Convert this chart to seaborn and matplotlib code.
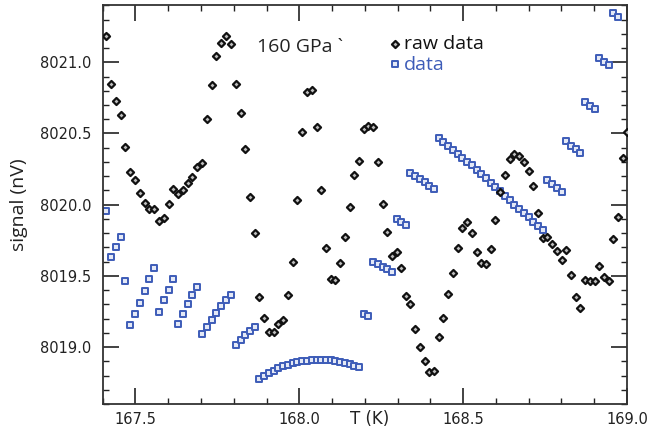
import numpy as np
import pandas as pd
import matplotlib
matplotlib.use("Agg")
import matplotlib.pyplot as plt
import seaborn as sns
from matplotlib.ticker import MultipleLocator, FormatStrFormatter

# sample temperatures (K)
temps = [
    167.410, 167.425, 167.440, 167.455, 167.469, 167.484, 167.499, 167.514, 167.528, 167.542,
    167.558, 167.572, 167.587, 167.602, 167.616, 167.631, 167.645, 167.660, 167.674, 167.688,
    167.703, 167.718, 167.733, 167.747, 167.762, 167.777, 167.792, 167.806, 167.821, 167.835,
    167.850, 167.864, 167.878, 167.893, 167.907, 167.922, 167.936, 167.951, 167.966, 167.980,
    167.994, 168.009, 168.024, 168.039, 168.053, 168.067, 168.082, 168.096, 168.110, 168.125,
    168.139, 168.154, 168.168, 168.183, 168.197, 168.211, 168.225, 168.240, 168.254, 168.268,
    168.282, 168.297, 168.311, 168.325, 168.339, 168.354, 168.369, 168.383, 168.397, 168.412,
    168.425, 168.440, 168.454, 168.469, 168.483, 168.497, 168.511, 168.526, 168.541, 168.555,
    168.569, 168.584, 168.598, 168.613, 168.627, 168.642, 168.656, 168.670, 168.685, 168.700,
    168.714, 168.728, 168.743, 168.757, 168.771, 168.786, 168.801, 168.815, 168.829, 168.844,
    168.858, 168.872, 168.886, 168.901, 168.915, 168.930, 168.944, 168.958, 168.973, 168.987,
    169.000,
]

# raw signal (nV)
raw_signal = [
    8021.188, 8020.850, 8020.730, 8020.632, 8020.408, 8020.232, 8020.174, 8020.082, 8020.014, 8019.968,
    8019.972, 8019.887, 8019.904, 8020.005, 8020.108, 8020.073, 8020.106, 8020.153, 8020.193, 8020.263,
    8020.296, 8020.601, 8020.838, 8021.042, 8021.132, 8021.183, 8021.127, 8020.850, 8020.641, 8020.394,
    8020.052, 8019.799, 8019.348, 8019.202, 8019.104, 8019.104, 8019.162, 8019.190, 8019.362, 8019.596,
    8020.033, 8020.510, 8020.794, 8020.806, 8020.542, 8020.104, 8019.693, 8019.479, 8019.472, 8019.589,
    8019.775, 8019.984, 8020.209, 8020.308, 8020.533, 8020.549, 8020.542, 8020.301, 8020.005, 8019.806,
    8019.641, 8019.669, 8019.552, 8019.357, 8019.299, 8019.127, 8019.000, 8018.901, 8018.824, 8018.829,
    8019.074, 8019.207, 8019.369, 8019.517, 8019.697, 8019.836, 8019.876, 8019.799, 8019.665, 8019.589,
    8019.584, 8019.686, 8019.889, 8020.092, 8020.206, 8020.320, 8020.355, 8020.344, 8020.303, 8020.235,
    8020.132, 8019.940, 8019.768, 8019.775, 8019.721, 8019.676, 8019.611, 8019.681, 8019.505, 8019.352,
    8019.277, 8019.468, 8019.465, 8019.465, 8019.566, 8019.493, 8019.463, 8019.756, 8019.913, 8020.329,
    8020.510,
]

# corrected signal (nV)
data_signal = [
    8019.958, 8019.634, 8019.704, 8019.775, 8019.465, 8019.153, 8019.232, 8019.310, 8019.392, 8019.475,
    8019.554, 8019.244, 8019.327, 8019.404, 8019.479, 8019.165, 8019.235, 8019.299, 8019.362, 8019.423,
    8019.089, 8019.142, 8019.193, 8019.239, 8019.287, 8019.327, 8019.366, 8019.014, 8019.049, 8019.082,
    8019.111, 8019.139, 8018.773, 8018.796, 8018.815, 8018.834, 8018.850, 8018.864, 8018.876, 8018.885,
    8018.892, 8018.899, 8018.904, 8018.906, 8018.908, 8018.908, 8018.906, 8018.906, 8018.901, 8018.894,
    8018.887, 8018.878, 8018.869, 8018.859, 8019.232, 8019.221, 8019.594, 8019.580, 8019.563, 8019.547,
    8019.528, 8019.899, 8019.878, 8019.857, 8020.223, 8020.200, 8020.179, 8020.158, 8020.134, 8020.107,
    8020.468, 8020.442, 8020.415, 8020.387, 8020.359, 8020.331, 8020.303, 8020.275, 8020.244, 8020.216,
    8020.186, 8020.155, 8020.125, 8020.094, 8020.063, 8020.033, 8020.001, 8019.971, 8019.942, 8019.911,
    8019.880, 8019.850, 8019.820, 8020.174, 8020.144, 8020.116, 8020.086, 8020.444, 8020.415, 8020.390,
    8020.362, 8020.723, 8020.695, 8020.669, 8021.031, 8021.005, 8020.979, 8021.343, 8021.317,
]

raw_df = pd.DataFrame({"T": temps, "signal": raw_signal})
data_df = pd.DataFrame({"T": temps[:len(data_signal)], "signal": data_signal})

sns.set_style("ticks")
plt.rcParams["font.family"] = ["DejaVu Sans"]

fig = plt.figure(figsize=(6.68, 4.29), dpi=100)
ax = fig.add_axes([0.1537, 0.0583, 0.7849, 0.9293])

sns.scatterplot(data=raw_df, x="T", y="signal", ax=ax, marker="D", s=13,
                color="#bdbdbd", edgecolor="#111111", linewidth=1.6,
                label="raw data", zorder=3)
sns.scatterplot(data=data_df, x="T", y="signal", ax=ax, marker="s", s=24,
                color="#e4e9f6", edgecolor="#3d5cb8", linewidth=1.4,
                label="data", zorder=2)

ax.set_xlim(167.4, 169.0)
ax.set_ylim(8018.6, 8021.4)
ax.xaxis.set_major_locator(MultipleLocator(0.5))
ax.xaxis.set_minor_locator(MultipleLocator(0.1))
ax.yaxis.set_major_locator(MultipleLocator(0.5))
ax.yaxis.set_minor_locator(MultipleLocator(0.1))
ax.xaxis.set_major_formatter(FormatStrFormatter("%.1f"))
ax.yaxis.set_major_formatter(FormatStrFormatter("%.1f"))
ax.tick_params(which="both", direction="in", top=True, right=True, colors="#222222")
ax.tick_params(which="major", length=11.5, width=1.2, labelsize=10.5, pad=6)
ax.tick_params(axis="y", which="major", pad=8)
ax.tick_params(which="minor", length=4.5, width=1.0)
for sp in ax.spines.values():
    sp.set_linewidth(1.3)
    sp.set_color("#333333")

ax.set_xlabel("")
ax.set_ylabel("signal (nV)", family=["Open Sans", "DejaVu Sans"], fontsize=14,
              color="#222222", labelpad=9)
fig.text(370 / 668, 1 - 419 / 429, "T (K)", ha="center", va="center",
         fontsize=12, color="#222222")
ax.text(0.295, 0.882, "160 GPa `", transform=ax.transAxes,
        family=["Open Sans", "DejaVu Sans"], fontsize=14, color="#222222")

leg = ax.legend(loc="upper left", bbox_to_anchor=(0.548, 0.925), frameon=False,
                handlelength=0.5, handletextpad=0.2, borderpad=0, borderaxespad=0,
                labelspacing=0.12, labelcolor="markeredgecolor",
                prop={"family": ["Open Sans", "DejaVu Sans"], "size": 14})

fig.savefig("out.png", dpi=100)
